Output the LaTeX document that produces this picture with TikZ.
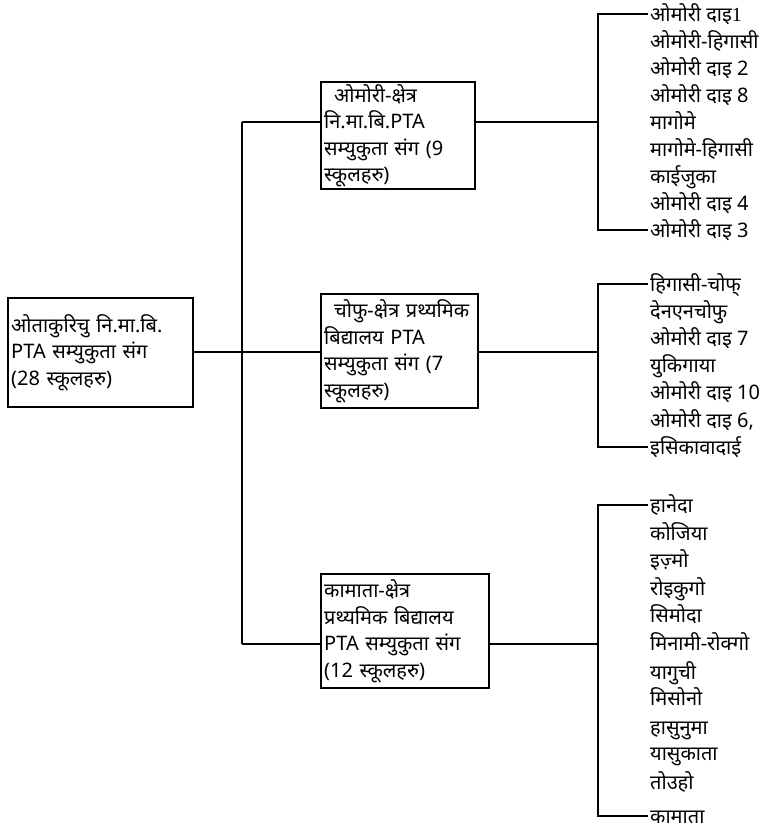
\documentclass[tikz,border=0pt]{standalone}
\usepackage{fontspec}
\setmainfont[Script=Devanagari]{Noto Sans}
\newfontfamily\serifnum{Liberation Serif}
\usetikzlibrary{positioning}

\begin{document}
\begin{tikzpicture}[x=1pt, y=-1pt,
            line width=2.4pt,
            box/.style={draw, rectangle, anchor=north west, inner xsep=3pt, inner ysep=0pt,
                align=left, font=\fontsize{20}{26.5}\selectfont},
            item/.style={anchor=west, inner sep=1pt, text height=15pt, text depth=1pt,
                font=\fontsize{20}{22}\selectfont}
        ]
        \useasboundingbox (0,0) rectangle (783,831);

        % (1) La racine
        \node[box, minimum width=185pt, minimum height=109pt, text width=179pt] (root) at (7,297)
            {ओताकुरिचु नि.मा.बि.\\PTA सम्युकुता संग\\(28 स्कूलहरु)};

        % (2) Les trois zones
        \node[box, minimum width=154pt, minimum height=107pt, text width=148pt] (omori) at (320,81)
            {\hspace*{10pt}ओमोरी-क्षेत्र\\नि.मा.बि.PTA\\सम्युकुता संग (9\\स्कूलहरु)};
        \node[box, minimum width=157pt, minimum height=114pt, text width=151pt] (chofu) at (320,293)
            {\hspace*{10pt}चोफु-क्षेत्र प्रथ्यमिक\\बिद्यालय PTA\\सम्युकुता संग (7\\स्कूलहरु)};
        \node[box, minimum width=168pt, minimum height=114pt, text width=162pt] (kamata) at (320,573)
            {कामाता-क्षेत्र\\प्रथ्यमिक बिद्यालय\\PTA सम्युकुता संग\\(12 स्कूलहरु)};

        % Tronc vertical
        \coordinate (sp1) at (242,122);
        \coordinate (sp2) at (242,352);
        \coordinate (sp3) at (242,644);
        \draw (root.east |- sp2) -- (sp2);
        \draw (sp1) -- (sp3);
        \draw (sp1) -- (sp1 -| omori.west);
        \draw (sp2) -- (sp2 -| chofu.west);
        \draw (sp3) -- (sp3 -| kamata.west);

        % (3) Les écoles
        \foreach \name [count=\i] in {ओमोरी दाइ{\serifnum 1}, ओमोरी-हिगासी, ओमोरी दाइ 2, ओमोरी दाइ 8,
                मागोमे, मागोमे-हिगासी, काईजुका, ओमोरी दाइ 4, ओमोरी दाइ 3}
            \node[item] (o\i) at (648, {14+27*(\i-1)}) {\name};

        \foreach \name [count=\i] in {हिगासी-चोफ्, देनएनचोफु, ओमोरी दाइ 7, युकिगाया,
                ओमोरी दाइ 10, {ओमोरी दाइ 6,}, इसिकावादाई}
            \node[item] (c\i) at (648, {284+27.2*(\i-1)}) {\name};

        \foreach \name/\y [count=\i] in {हानेदा/505, कोजिया/533, इज़्मो/560, रोइकुगो/588,
                सिमोदा/615, मिनामी-रोक्गो/643, यागुची/672, मिसोनो/698, हासुनुमा/727,
                यासुकाता/753, तोउहो/782, कामाता/816}
            \node[item] (k\i) at (648,\y) {\name};

        % Accolades
        \coordinate (br1) at (598,122);
        \coordinate (br2) at (598,352);
        \coordinate (br3) at (598,644);
        \draw (omori.east |- br1) -- (br1);
        \draw (chofu.east |- br2) -- (br2);
        \draw (kamata.east |- br3) -- (br3);
        \draw (o1.west) -| (br1) |- (o9.west);
        \draw (c1.west) -| (br2) |- (c7.west);
        \draw (k1.west) -| (br3) |- (k12.west);

\end{tikzpicture}
\end{document}
